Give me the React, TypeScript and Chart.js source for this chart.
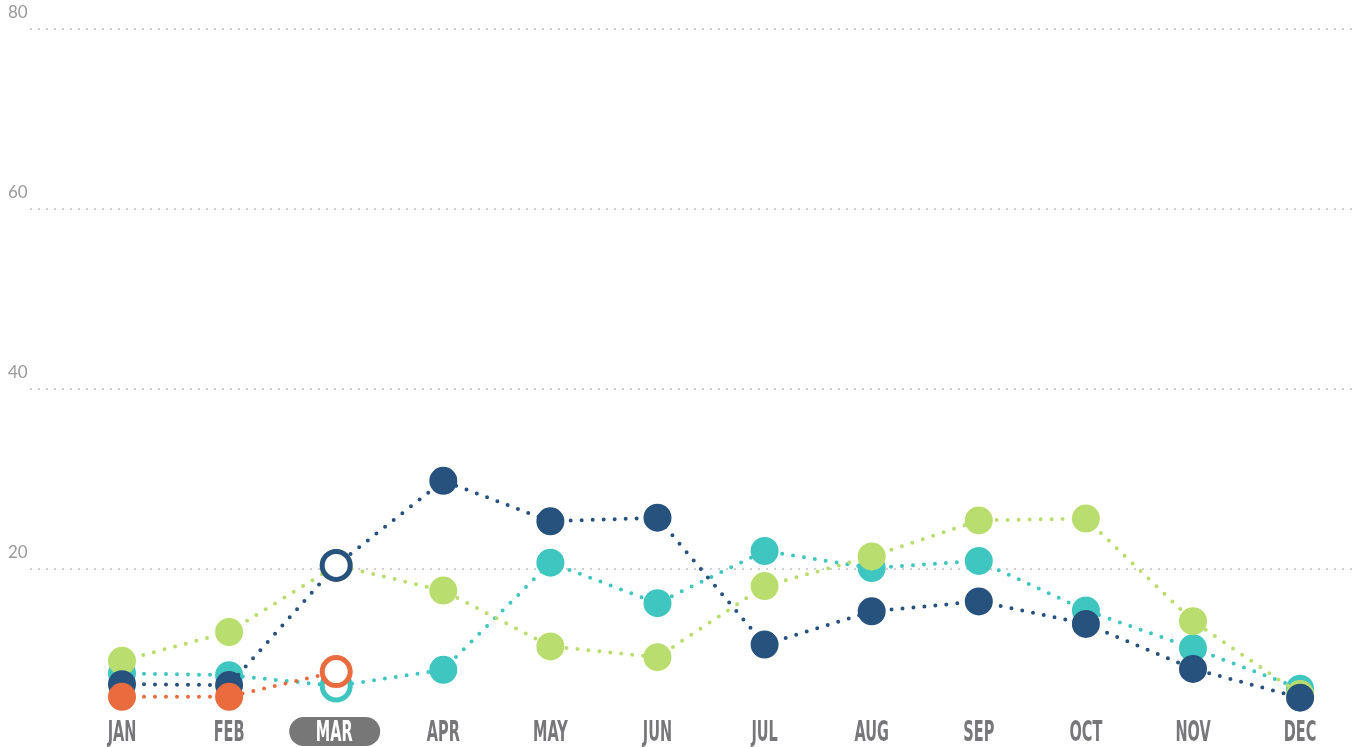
import React, { useEffect, useRef } from 'react';
import { Chart, registerables } from 'chart.js';

Chart.register(...registerables);

// ---- data ----
const months = ['JAN', 'FEB', 'MAR', 'APR', 'MAY', 'JUN', 'JUL', 'AUG', 'SEP', 'OCT', 'NOV', 'DEC'];
const highlightIndex = 2; // current month (MAR)
const navyValues = [7.2, 7.1, 20.4, 29.8, 25.3, 25.7, 11.6, 15.3, 16.4, 13.9, 8.9, 5.7];
const tealValues = [8.4, 8.2, 7.0, 8.8, 20.7, 16.2, 22.0, 20.1, 20.9, 15.4, 11.2, 6.7];
const greenValues = [9.8, 13.0, 20.4, 17.6, 11.4, 10.2, 18.1, 21.4, 25.4, 25.6, 14.2, 6.1];
const orangeValues: (number | null)[] = [5.8, 5.8, 8.6, null, null, null, null, null, null, null, null, null];
const yTicks = [20, 40, 60, 80];

const NAVY = '#27527e';
const TEAL = '#40c6c0';
const GREEN = '#b9dd6e';
const ORANGE = '#ea6c3e';

function makeDataset(label: string, values: (number | null)[], color: string, order: number) {
  return {
    label,
    order,
    data: values.map((v, i) => ({ x: i, y: v })),
    borderColor: color,
    backgroundColor: color,
    borderWidth: 4,
    borderDash: [0, 11],
    borderCapStyle: 'round' as const,
    tension: 0,
    fill: false,
    clip: false as const,
    pointRadius: values.map((_, i) => (i === highlightIndex ? 14 : 13)),
    pointHoverRadius: values.map((_, i) => (i === highlightIndex ? 14 : 13)),
    pointBorderWidth: values.map((_, i) => (i === highlightIndex ? 5 : 2)),
    pointHoverBorderWidth: values.map((_, i) => (i === highlightIndex ? 5 : 2)),
    pointBackgroundColor: values.map((_, i) => (i === highlightIndex ? '#ffffff' : color)),
    pointBorderColor: color,
  };
}

const monthLabelsPlugin = {
  id: 'monthLabels',
  afterDraw(chart: any) {
    const { ctx, scales } = chart;
    const x = scales.x;
    ctx.save();
    ctx.font = 'bold 29px "Liberation Sans Narrow", "DejaVu Sans Condensed", sans-serif';
    const sx = 33 / ctx.measureText('APR').width;
    ctx.textAlign = 'center';
    ctx.textBaseline = 'alphabetic';
    months.forEach((m, i) => {
      const px = x.getPixelForValue(i);
      if (i === highlightIndex) {
        ctx.fillStyle = '#777778';
        ctx.beginPath();
        ctx.roundRect(px - 47, 717, 91, 29, 14.5);
        ctx.fill();
      }
      ctx.fillStyle = i === highlightIndex ? '#ffffff' : '#77777a';
      ctx.save();
      ctx.translate(px - (i === highlightIndex ? 2 : 0), 741);
      ctx.scale(sx, 1);
      ctx.fillText(m, 0, 0);
      ctx.restore();
    });
    ctx.restore();
  },
};

export default function App() {
  const canvasRef = useRef<HTMLCanvasElement | null>(null);

  useEffect(() => {
    document.body.style.margin = '0';
    const canvas = canvasRef.current;
    if (!canvas) return;
    const chart = new Chart(canvas, {
      type: 'line',
      data: {
        datasets: [
          makeDataset('Orange', orangeValues, ORANGE, 0),
          makeDataset('Navy', navyValues, NAVY, 1),
          makeDataset('Green', greenValues, GREEN, 2),
          makeDataset('Teal', tealValues, TEAL, 3),
        ] as any,
      },
      options: {
        responsive: false,
        animation: false,
        devicePixelRatio: 1,
        layout: { autoPadding: false, padding: { left: 8, top: 29, right: 0, bottom: 0 } },
        plugins: {
          legend: { display: false },
          tooltip: { enabled: false },
        },
        events: [],
        scales: {
          x: {
            type: 'linear',
            display: false,
            min: -0.859,
            max: 11.494,
          },
          y: {
            type: 'linear',
            min: 0.22,
            max: 80,
            afterBuildTicks: (s: any) => {
              s.ticks = yTicks.map((v) => ({ value: v }));
            },
            afterFit: (s: any) => {
              s.width = 22;
              s.paddingTop = 0;
              s.paddingBottom = 0;
            },
            grid: { color: '#cfcfcf', lineWidth: 2, drawTicks: false },
            border: { display: false, dash: [2, 6] },
            ticks: {
              color: '#9a9a9a',
              font: { family: 'Lato', size: 17 },
              crossAlign: 'far',
              padding: 0,
              labelOffset: -16,
            },
          },
        },
      } as any,
      plugins: [monthLabelsPlugin],
    });
    return () => chart.destroy();
  }, []);

  return (
    <div style={{ width: 1353, height: 747, position: 'relative' }}>
      <canvas ref={canvasRef} width={1353} height={747} style={{ display: 'block' }} />
    </div>
  );
}
